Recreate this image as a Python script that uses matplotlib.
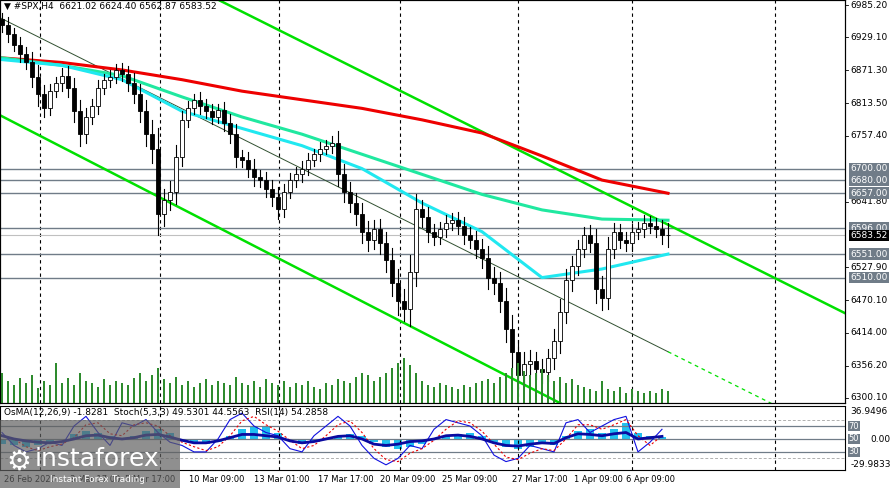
import matplotlib
matplotlib.use("Agg")
import matplotlib.pyplot as plt
import matplotlib.transforms as mtrans
from matplotlib.patches import Rectangle
import numpy as np

closes = [6950,6935,6915,6900,6885,6860,6830,6805,6835,6850,
          6862,6840,6800,6760,6790,6810,6840,6855,6860,6872,
          6865,6850,6830,6800,6760,6735,6620,6645,6660,6720,
          6785,6805,6820,6810,6800,6790,6802,6780,6760,6720,
          6715,6700,6685,6680,6665,6650,6630,6660,6680,6690,
          6700,6715,6725,6735,6740,6745,6690,6660,6640,6620,
          6590,6575,6595,6570,6540,6500,6470,6455,6520,6630,
          6615,6590,6580,6595,6605,6610,6600,6585,6575,6560,
          6545,6510,6500,6470,6420,6380,6340,6360,6365,6350,
          6345,6370,6400,6450,6505,6530,6560,6585,6570,6490,
          6475,6560,6590,6575,6570,6590,6595,6605,6600,6595,6585,6583.52]
wicks = [12,15,10,14,12,18,20,15,12,10,14,16,18,20,15,12,14,10,12,10,
         12,14,16,18,20,25,35,20,18,22,15,12,10,14,12,12,10,14,16,18,
         12,14,16,12,14,16,18,14,12,12,14,12,10,12,10,12,20,18,16,18,
         20,18,16,18,20,22,25,20,30,25,16,18,14,12,14,12,14,16,14,16,
         18,20,18,20,22,25,22,20,18,16,18,16,20,22,20,18,16,14,16,25,
         22,20,16,14,14,14,12,14,12,14,16,20]
volumes = [30,22,18,25,20,28,15,22,18,40,20,25,18,30,22,20,16,24,18,22,
           20,18,25,30,22,28,35,24,20,26,18,22,16,20,24,18,22,20,18,26,
           20,18,22,16,24,20,18,22,16,20,18,22,16,14,20,18,24,22,20,26,
           30,28,22,26,30,35,40,45,38,30,22,18,16,20,18,16,14,18,16,20,
           22,24,20,26,30,35,40,32,28,30,34,28,22,26,20,24,18,16,14,12,
           22,14,12,16,10,14,12,10,12,10,14,12]
ma_idx = [0,10,20,30,40,50,60,70,80,90,100,111]
ma_red = [6893,6885,6872,6855,6835,6820,6805,6785,6762,6722,6680,6657]
ma_green = [6893,6880,6862,6825,6790,6760,6725,6690,6655,6628,6612,6610]
ma_cyan = [6890,6880,6855,6800,6770,6740,6700,6640,6590,6510,6525,6551]
levels = [6700.00,6680.00,6657.00,6596.00,6551.00,6510.00]
price_ticks = [6985.20,6929.10,6871.30,6813.50,6757.40,6641.80,6527.90,6470.10,6414.00,6356.20,6300.10]
last_price = 6583.52
stoch_k = [60,40,30,35,45,40,70,85,60,40,75,70,80,60,45,40,30,30,50,80,90,70,60,55,35,30,55,70,85,70,
           40,20,10,20,40,35,65,80,75,70,55,25,15,20,40,35,30,75,80,60,70,80,85,30,45,65]
stoch_d = [55,50,38,32,38,42,52,72,75,58,55,72,75,70,55,45,38,32,38,55,78,85,72,62,48,35,40,55,72,78,
           60,35,18,15,28,35,48,65,78,75,62,42,22,18,28,35,32,50,72,72,65,72,80,55,40,55]
rsi = [55,50,47,45,44,46,50,55,56,52,50,52,56,57,53,48,44,44,47,52,57,57,55,53,47,44,46,50,54,55,
       50,42,40,42,46,47,50,55,56,54,50,44,40,39,42,44,43,52,58,57,55,58,60,50,52,54]
osma = [-8,-10,-12,-10,-5,0,8,12,10,5,0,5,12,15,10,0,-5,-8,-5,5,15,20,18,10,0,-8,-5,0,5,8,
        5,-5,-12,-15,-12,-8,0,5,8,10,5,-5,-12,-15,-12,-8,-10,5,12,15,10,15,25,10,5,3]
date_labels = ["26 Feb 2026","3 Mar 17:00","5 Mar 17:00","10 Mar 09:00","13 Mar 01:00","17 Mar 17:00",
               "20 Mar 09:00","25 Mar 09:00","27 Mar 17:00","1 Apr 09:00","6 Apr 09:00"]
date_px = [30,95,150,217,282,346,408,470,540,598,650]

W, H = 891, 488
fig = plt.figure(figsize=(W/100, H/100), dpi=100)
def fx(px): return px / W
def fy(py): return 1 - py / H
ax = fig.add_axes([0, fy(403), fx(845), (403-0)/H])
sub = fig.add_axes([0, fy(470), fx(845), (470-406)/H])

def px2i(px): return (px - 2) / 6.0
ppp = 685.1 / 393
ax.set_xlim(px2i(0), px2i(845))
ax.set_ylim(6300.1 - 5*ppp, 6985.2 + 5*ppp)
sub.set_xlim(px2i(0), px2i(845))
sub.set_ylim(2, 101)
for a in (ax, sub):
    a.set_xticks([]); a.set_yticks([])
    for s in a.spines.values():
        s.set_color("black"); s.set_linewidth(0.8)

vax = ax.twinx()
vax.set_ylim(0, 403)
vax.set_yticks([])
idx = np.arange(len(closes))
vax.bar(idx, volumes, width=0.25, color="#2e8b2e")

for vp in [40,160,279,400,518,632,775]:
    ax.axvline(px2i(vp), color="black", ls=(0,(3,3)), lw=0.8)
    sub.axvline(px2i(vp), color="black", ls=(0,(3,3)), lw=0.8)

for lv in levels:
    ax.axhline(lv, color="#707c88", lw=1.0)
ax.axhline(last_price, color="#c0c0c0", lw=0.8)

def line_through(i0, p0, slope_ppx, i_from, i_to):
    s = slope_ppx * 6 * ppp
    xs = np.array([i_from, i_to])
    return xs, p0 - s * (xs - i0)
xs, ys = line_through(px2i(775), 6509, 0.5, px2i(220), px2i(845))
ax.plot(xs, ys, color="#00e000", lw=1.8)
xs, ys = line_through(px2i(0), 6793, 0.514, px2i(0), px2i(565))
ax.plot(xs, ys, color="#00e000", lw=1.8)
xs, ys = line_through(px2i(0), 6963, 0.5, px2i(0), px2i(668))
ax.plot(xs, ys, color="#305030", lw=0.7)
xs, ys = line_through(px2i(0), 6963, 0.5, px2i(668), px2i(790))
ax.plot(xs, ys, color="#00e000", lw=0.9, ls=(0,(3,3)))

ax.plot(ma_idx, ma_red, color="#ee0000", lw=2.2)
ax.plot(ma_idx, ma_green, color="#20e8a0", lw=2.2)
ax.plot(ma_idx, ma_cyan, color="#20e8f0", lw=2.2)

prev = closes[0] + 10
for i, c in enumerate(closes):
    o = prev
    hi = max(o, c) + wicks[i]; lo = min(o, c) - wicks[i]
    ax.plot([i, i], [lo, hi], color="black", lw=0.8, zorder=5)
    fc = "white" if c >= o else "black"
    ax.add_patch(Rectangle((i-0.3, min(o, c)), 0.6, max(abs(c-o), 1.5),
                           facecolor=fc, edgecolor="black", lw=0.6, zorder=6))
    prev = c

tr = mtrans.blended_transform_factory(ax.transAxes, ax.transData)
for p in price_ticks:
    ax.text(1.006, p, f"{p:.2f}", transform=tr, fontsize=6.5, va="center", ha="left", clip_on=False)
    ax.plot([1.0, 1.004], [p, p], transform=tr, color="black", lw=0.6, clip_on=False)
for lv in levels:
    ax.text(1.006, lv, f"{lv:.2f}", transform=tr, fontsize=6.5, va="center", ha="left", color="white",
            clip_on=False, bbox=dict(boxstyle="square,pad=0.15", fc="#707c88", ec="none"))
ax.text(1.006, last_price, f"{last_price:.2f}", transform=tr, fontsize=6.5, va="center", ha="left",
        color="white", clip_on=False, bbox=dict(boxstyle="square,pad=0.15", fc="black", ec="none"))
ax.text(0.005, 0.995, "\u25bc #SPX,H4  6621.02 6624.40 6562.87 6583.52", transform=ax.transAxes,
        fontsize=6.5, va="top", ha="left")

si = np.arange(len(rsi)) * 2
for lv in (70, 50, 30):
    sub.axhline(lv, color="#707c88", lw=0.9)
for lv in (80, 20):
    sub.axhline(lv, color="#b0b0b0", lw=0.7, ls=(0,(3,2)))
sub.bar(si, np.array(osma), bottom=50, width=1.4, color="#20c0f0")
sub.plot(si, stoch_k, color="#1010e0", lw=0.8)
sub.plot(si, stoch_d, color="#ee0000", lw=0.8, ls=(0,(2,2)))
sub.plot(si, rsi, color="#0a0aa0", lw=2.0)
sub.text(0.005, 0.97, "OsMA(12,26,9) -1.8281  Stoch(5,3,3) 49.5301 44.5563  RSI(14) 54.2858",
         transform=sub.transAxes, fontsize=6.5, va="top", ha="left")
trs = mtrans.blended_transform_factory(sub.transAxes, sub.transData)
sub.text(1.006, 100, "36.9496", transform=trs, fontsize=6.5, va="top", ha="left", clip_on=False)
sub.text(1.03, 49, "0.00", transform=trs, fontsize=6.5, va="center", ha="left", clip_on=False)
sub.text(1.006, 4, "-29.9833", transform=trs, fontsize=6.5, va="bottom", ha="left", clip_on=False)
for lv in (70, 50, 30):
    sub.text(1.004, lv, str(lv), transform=trs, fontsize=6, va="center", ha="left", color="white",
             clip_on=False, bbox=dict(boxstyle="square,pad=0.1", fc="#707c88", ec="none"))

for lab, p in zip(date_labels, date_px):
    fig.text(fx(p), fy(480), lab, fontsize=6, ha="center", va="center")

fig.patches.append(Rectangle((0, 0), fx(180), (488-420)/H, transform=fig.transFigure,
                             facecolor="#606060", alpha=0.7, edgecolor="none", zorder=10))
fig.text(fx(35), fy(459), "instaforex", fontsize=18, color="white", ha="left", va="center", zorder=11)
fig.text(fx(50), fy(480), "Instant Forex Trading", fontsize=6.5, color="white", ha="left", va="center", zorder=11)
fig.text(fx(6), fy(462), "\u2699", fontsize=20, color="white", ha="left", va="center", zorder=11)

fig.savefig("out.png", dpi=100)
